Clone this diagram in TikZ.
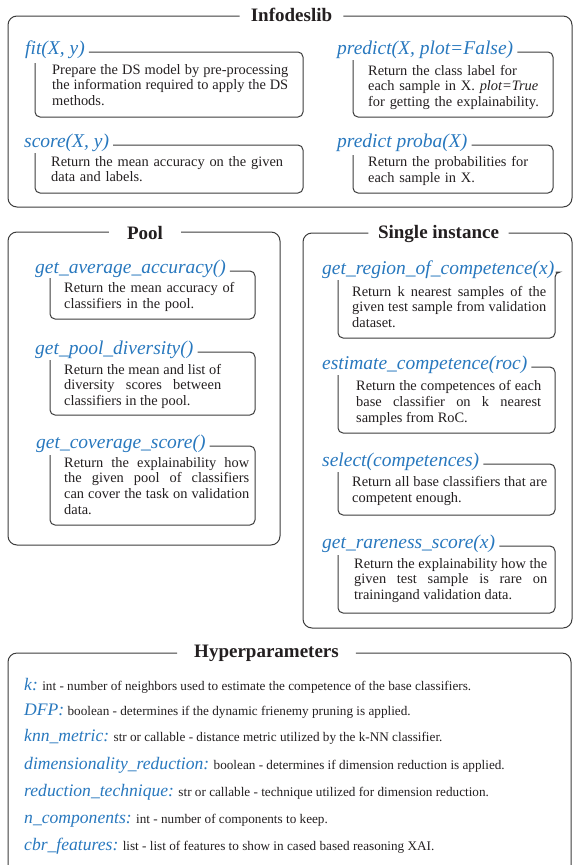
\documentclass[tikz,border=0pt]{standalone}
\usepackage{fontspec}
\setmainfont{Liberation Serif}
\definecolor{fnblue}{RGB}{40,120,190}
\definecolor{ink}{RGB}{35,31,32}
\definecolor{rulecol}{RGB}{60,60,60}
\tolerance=10000
\hyphenpenalty=10000
\newcommand\hyplbl[1]{{\color{fnblue}\fontsize{17.6}{18}\selectfont\itshape #1}}
\tikzset{
  lbl/.style={anchor=base west, inner sep=0pt, text=fnblue, font=\fontsize{19.5}{20}\selectfont\itshape},
  body/.style={anchor=base west, inner sep=0pt, text=ink, align=justify,
    font=\fontsize{14.4}{15.9}\selectfont},
  bodyl/.style={body, align=left},
  subbox/.style={draw=rulecol, line width=1pt, rounded corners=5pt},
  outerbox/.style={draw=rulecol, line width=1pt, rounded corners=9pt},
  ttl/.style={anchor=base, inner ysep=0pt, text=ink, font=\fontsize{19}{20}\selectfont\bfseries},
  hline/.style={anchor=base west, inner sep=0pt, text=ink, font=\fontsize{13.2}{14}\selectfont},
}
\begin{document}
\begin{tikzpicture}[x=1pt,y=-1pt]
\useasboundingbox (0,0) rectangle (573,865);

% ---------------- Infodeslib ----------------
\node[ttl, inner xsep=11pt] (tinfo) at (291.5,21) {Infodeslib};
\draw[outerbox] (tinfo.east |- 0,16) -- (572,16) -- (572,207) -- (8,207) -- (8,16) -- (tinfo.west |- 0,16);

\node[lbl] (lfit) at (25,54) {fit(X, y)};
\node[body, text width=236pt] (tfit) at (52,74) {Prepare the DS model by pre-processing\linebreak the information required to apply the DS\linebreak methods.};
\draw[subbox] ([xshift=4pt,yshift=2pt]lfit.base east) -| (303,117) -- (35,117) -- (35,63);

\node[lbl] (lscore) at (24,147) {score(X, y)};
\node[bodyl, text width=240pt] (tscore) at (51,166) {Return the mean accuracy on the given\\ data and labels.};
\draw[subbox] ([xshift=4pt,yshift=2pt]lscore.base east) -| (303,193) -- (35,193) -- (35,153);

\node[lbl] (lpred) at (337,54) {predict(X, plot=False)};
\node[bodyl, text width=180pt] (tpred) at (368,75) {Return the class label for\\ each sample in X. \textit{plot=True}\\ for getting the explainability.};
\draw[subbox] ([xshift=4pt,yshift=2pt]lpred.base east) -| (553,117) -- (353,117) -- (353,60);

\node[lbl] (lproba) at (337,147) {predict proba(X)};
\node[bodyl, text width=180pt] (tproba) at (368,166.5) {Return the probabilities for\\ each sample in X.};
\draw[subbox] ([xshift=4pt,yshift=2pt]lproba.base east) -| (553,193) -- (353,193) -- (353,155);

% ---------------- Pool ----------------
\node[ttl, inner xsep=18pt] (tpool) at (145,239) {Pool};
\draw[outerbox] (tpool.east |- 0,232) -- (280,232) -- (280,545) -- (8,545) -- (8,232) -- (tpool.west |- 0,232);

\node[lbl] (lavg) at (35,273) {get\_average\_accuracy()};
\node[bodyl, text width=180pt] (tavg) at (64,292.5) {Return the mean accuracy of\\ classifiers in the pool.};
\draw[subbox] ([xshift=4pt,yshift=2pt]lavg.base east) -| (255,319) -- (50,319) -- (50,278);

\node[lbl] (ldiv) at (35,354) {get\_pool\_diversity()};
\node[body, text width=157pt] (tdiv) at (64,374) {Return the mean and list of\linebreak diversity scores between\linebreak classifiers in the pool.};
\draw[subbox] ([xshift=4pt,yshift=2pt]ldiv.base east) -| (255,415) -- (50,415) -- (50,360);

\node[lbl] (lcov) at (36,448) {get\_coverage\_score()};
\node[body, text width=185pt] (tcov) at (64,467) {Return the explainability how\linebreak the given pool of classifiers\linebreak can cover the task on validation\linebreak data.};
\draw[subbox] ([xshift=4pt,yshift=2pt]lcov.base east) -| (255,525) -- (50,525) -- (50,455);

% ---------------- Single instance ----------------
\node[ttl, inner xsep=9.5pt] (tsingle) at (438.5,238.3) {Single instance};
\draw[outerbox] (tsingle.east |- 0,233) -- (572,233) -- (572,628) -- (303,628) -- (303,233) -- (tsingle.west |- 0,233);

\node[lbl] (lreg) at (322,274) {get\_region\_of\_competence(x)};
\node[body, text width=194pt] (treg) at (352,296) {Return k nearest samples of the\linebreak given test sample from validation\linebreak dataset.};
\draw[subbox] ([xshift=1pt,yshift=2pt]lreg.base east) -| (555,338) -- (338,338) -- (338,280);

\node[lbl] (lest) at (322,369) {estimate\_competence(roc)};
\node[body, text width=185pt] (test) at (356,390.7) {Return the competences of each\linebreak base classifier on k nearest\linebreak samples from RoC.};
\draw[subbox] ([xshift=4pt,yshift=2pt]lest.base east) -| (555,433) -- (338,433) -- (338,375);

\node[lbl] (lsel) at (322,466) {select(competences)};
\node[body, text width=195pt] (tsel) at (352,486.7) {Return all base classifiers that are\linebreak competent enough.};
\draw[subbox] ([xshift=4pt,yshift=2pt]lsel.base east) -| (555,515) -- (338,515) -- (338,472);

\node[lbl] (lrare) at (322,548) {get\_rareness\_score(x)};
\node[body, text width=193pt] (trare) at (354,568) {Return the explainability how the\linebreak given test sample is rare on\linebreak trainingand validation data.};
\draw[subbox] ([xshift=4pt,yshift=2pt]lrare.base east) -| (555,613) -- (338,613) -- (338,555);

% ---------------- Hyperparameters ----------------
\node[ttl, inner xsep=17pt] (thyper) at (266.5,657) {Hyperparameters};
\draw[outerbox] (8,865) -- (8,653) -- (thyper.west |- 0,653);
\draw[outerbox] (thyper.east |- 0,653) -- (571,653) -- (571,865);

\node[hline] (hk) at (24,690) {\hyplbl{k:} int - number of neighbors used to estimate the competence of the base classifiers.};
\node[hline] (hdfp) at (24,715) {\hyplbl{DFP:} boolean - determines if the dynamic frienemy pruning is applied.};
\node[hline] (hknn) at (24,741.7) {\hyplbl{knn\_metric:} str or callable - distance metric utilized by the k-NN classifier.};
\node[hline] (hdim) at (24,769) {\hyplbl{dimensionality\_reduction:} boolean - determines if dimension reduction is applied.};
\node[hline] (hred) at (24,796.7) {\hyplbl{reduction\_technique:} str or callable - technique utilized for dimension reduction.};
\node[hline] (hncomp) at (24,823) {\hyplbl{n\_components:} int - number of components to keep.};
\node[hline] (hcbr) at (24,850.7) {\hyplbl{cbr\_features:} list - list of features to show in cased based reasoning XAI.};
\end{tikzpicture}
\end{document}
